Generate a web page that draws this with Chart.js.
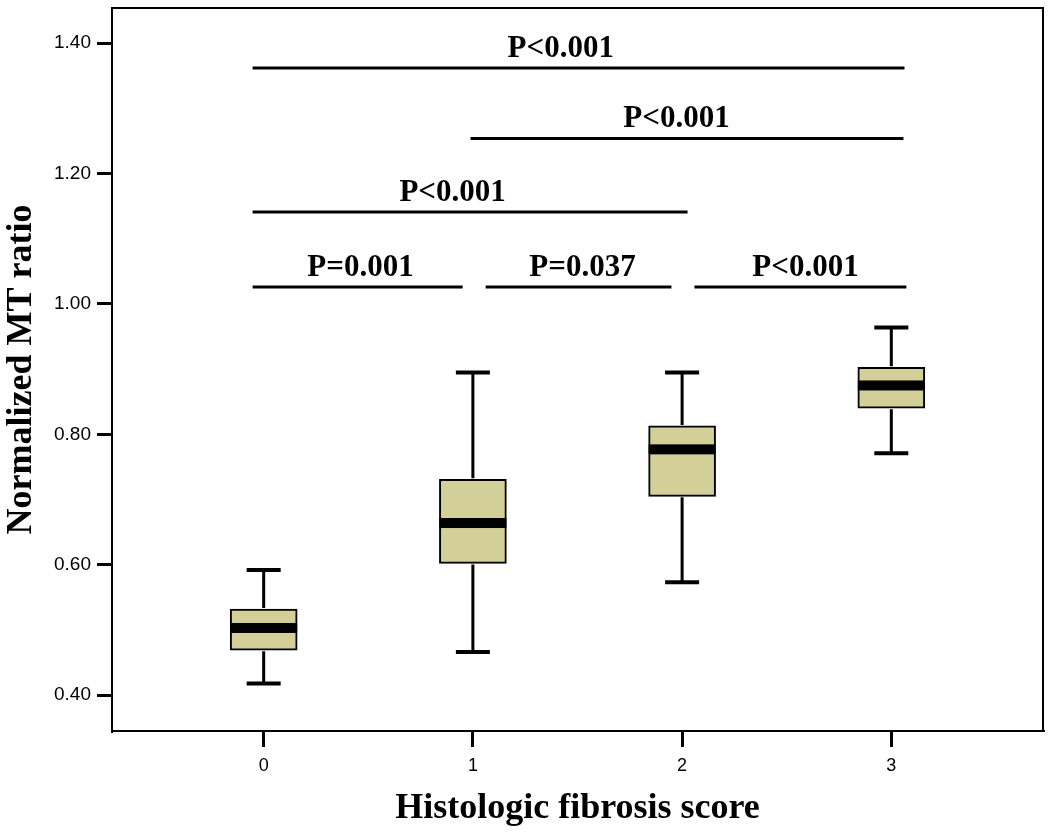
<!DOCTYPE html>
<html>
<head>
<meta charset="utf-8">
<script src="https://cdn.jsdelivr.net/npm/chart.js@4/dist/chart.umd.min.js"></script>
<style>
  body { margin: 0; background: #fff; }
  canvas { display: block; }
</style>
</head>
<body>
<canvas id="chart" width="1050" height="839"></canvas>
<script>
'use strict'

// fibrosis score groups and box plot numbers
var scores = [0, 1, 2, 3];
var lowWhisker = [0.418, 0.466, 0.573, 0.771];
var q1 = [0.469, 0.602, 0.705, 0.840];
var medians = [0.503, 0.664, 0.777, 0.875];
var q3 = [0.532, 0.731, 0.813, 0.903];
var highWhisker = [0.592, 0.895, 0.895, 0.964];

var yTicks = [0.4, 0.6, 0.8, 1.0, 1.2, 1.4];
var xTicks = [0, 1, 2, 3];

// p-value brackets (from group, to group, height, label)
var pFrom = [-0.053, 0.989, -0.053, -0.053, 1.061, 2.059];
var pTo = [3.063, 3.058, 2.026, 0.951, 1.949, 3.072];
var pLevel = [1.362, 1.254, 1.141, 1.026, 1.026, 1.026];
var pText = ['P<0.001', 'P<0.001', 'P<0.001', 'P=0.001', 'P=0.037', 'P<0.001'];
var pTextAt = [1.42, 1.973, 0.903, 0.463, 1.524, 2.59];

/////////////////////////////////////////////////////////////////

var boxes = [];
for (var i = 0; i < scores.length; i++) {
  boxes.push({x: scores[i], y: [q1[i], q3[i]]});
}

var boxColor = '#d3cf98';
var boxWidth = 67;

/////////////////////////////////////////////////////////////////

// whiskers, caps, medians, brackets and the frame
var extras = {
  id: 'extras',
  afterDatasetsDraw: function (chart) {
    var ctx = chart.ctx;
    var xs = chart.scales.x;
    var ys = chart.scales.y;
    var area = chart.chartArea;
    ctx.save();
    ctx.strokeStyle = '#000';
    ctx.fillStyle = '#000';
    ctx.lineCap = 'butt';

    for (var i = 0; i < scores.length; i++) {
      var cx = xs.getPixelForValue(scores[i]);
      var yMin = ys.getPixelForValue(lowWhisker[i]);
      var yQ1 = ys.getPixelForValue(q1[i]);
      var yQ3 = ys.getPixelForValue(q3[i]);
      var yMax = ys.getPixelForValue(highWhisker[i]);
      var yMed = ys.getPixelForValue(medians[i]);

      ctx.lineWidth = 3;
      ctx.beginPath();
      ctx.moveTo(cx, yQ3 - 1); ctx.lineTo(cx, yMax);
      ctx.moveTo(cx, yQ1 + 1); ctx.lineTo(cx, yMin);
      ctx.stroke();

      ctx.lineWidth = 4;
      ctx.beginPath();
      ctx.moveTo(cx - 17, yMax); ctx.lineTo(cx + 17, yMax);
      ctx.moveTo(cx - 17, yMin); ctx.lineTo(cx + 17, yMin);
      ctx.stroke();

      ctx.fillRect(cx - boxWidth / 2, yMed - 5, boxWidth, 10);
    }

    ctx.lineWidth = 3;
    ctx.font = 'bold 31px "Liberation Serif", "Times New Roman", serif';
    ctx.textAlign = 'center';
    ctx.textBaseline = 'alphabetic';
    for (var j = 0; j < pText.length; j++) {
      var y = ys.getPixelForValue(pLevel[j]);
      ctx.beginPath();
      ctx.moveTo(xs.getPixelForValue(pFrom[j]), y);
      ctx.lineTo(xs.getPixelForValue(pTo[j]), y);
      ctx.stroke();
      ctx.fillText(pText[j], xs.getPixelForValue(pTextAt[j]), y - 11);
    }

    ctx.lineWidth = 2;
    ctx.strokeRect(area.left, area.top, area.right - area.left, area.bottom - area.top);
    ctx.restore();
  }
};

/////////////////////////////////////////////////////////////////

function makeChart() {
  var ctx = document.getElementById('chart').getContext('2d');
  new Chart(ctx, {
    type: 'bar',
    data: {
      datasets: [{
        data: boxes,
        backgroundColor: boxColor,
        borderColor: '#000',
        borderWidth: 2,
        borderSkipped: false,
        barThickness: boxWidth
      }]
    },
    options: {
      responsive: false,
      animation: false,
      devicePixelRatio: 1,
      layout: { padding: { top: 8, right: 7, left: 0, bottom: 0 } },
      plugins: {
        legend: { display: false },
        tooltip: { enabled: false }
      },
      scales: {
        x: {
          type: 'linear',
          offset: false,
          min: -0.725,
          max: 3.725,
          afterBuildTicks: function (axis) {
            axis.ticks = xTicks.map(function (v) { return {value: v}; });
          },
          afterFit: function (axis) {
            axis.height = 108;
            axis.paddingLeft = 0;
            axis.paddingRight = 0;
          },
          ticks: {
            color: '#000',
            padding: 8,
            font: { family: '"Liberation Sans", Arial, sans-serif', size: 18 },
            callback: function (v) { return String(v); }
          },
          grid: { offset: false, drawOnChartArea: false, tickLength: 16, color: '#000', lineWidth: 3 },
          border: { color: '#000', width: 2 },
          title: {
            display: true,
            text: 'Histologic fibrosis score',
            color: '#000',
            padding: { top: 0, bottom: 9 },
            font: { family: '"Liberation Serif", "Times New Roman", serif', size: 36, weight: 'bold' }
          }
        },
        y: {
          type: 'linear',
          min: 0.345,
          max: 1.454,
          afterBuildTicks: function (axis) {
            axis.ticks = yTicks.map(function (v) { return {value: v}; });
          },
          afterFit: function (axis) {
            axis.width = 112;
            axis.paddingTop = 0;
            axis.paddingBottom = 0;
          },
          ticks: {
            color: '#000',
            padding: 6,
            font: { family: '"Liberation Sans", Arial, sans-serif', size: 19 },
            callback: function (v) { return Number(v).toFixed(2); }
          },
          grid: { drawOnChartArea: false, tickLength: 15, color: '#000', lineWidth: 3 },
          border: { color: '#000', width: 2 },
          title: {
            display: true,
            text: 'Normalized MT ratio',
            color: '#000',
            padding: { top: 0, bottom: 0 },
            font: { family: '"Liberation Serif", "Times New Roman", serif', size: 36, weight: 'bold' }
          }
        }
      }
    },
    plugins: [extras]
  });
}

makeChart();
</script>
</body>
</html>
